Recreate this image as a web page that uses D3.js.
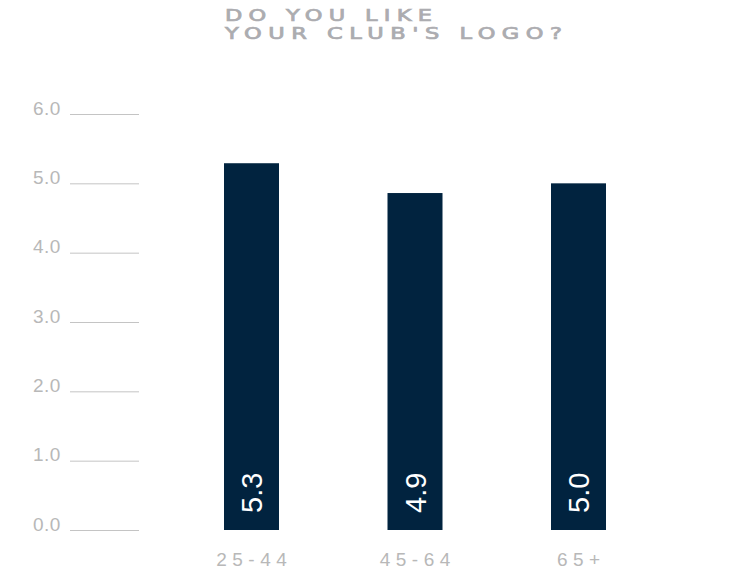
<!DOCTYPE html>
<html>
<head>
<meta charset="utf-8">
<script src="https://cdn.jsdelivr.net/npm/d3@7"></script>
<style>
  html, body { margin: 0; padding: 0; background: #ffffff; }
  svg { display: block; }
</style>
</head>
<body>
<svg id="chart" width="743" height="571"></svg>
<script>
const titleLines = ["DO YOU LIKE", "YOUR CLUB'S LOGO?"];
const categories = ["25-44", "45-64", "65+"];
const values = [5.29, 4.86, 5.0];
const valueLabels = ["5.3", "4.9", "5.0"];
const yTicks = [0, 1, 2, 3, 4, 5, 6];
const yTickLabels = ["0.0", "1.0", "2.0", "3.0", "4.0", "5.0", "6.0"];

const svg = d3.select("#chart");
const barColor = "#01233f";
const textGray = "#b8b8b8";

const x = d3.scaleBand()
  .domain(categories)
  .range([169.75, 660.25])
  .paddingInner(0.6636)
  .paddingOuter(0.3318);

const y = d3.scaleLinear().domain([0, 6]).range([530, 114]);

// Title (wide, letter-spaced)
const sx = 1.5;
const titleWidths = [207, 337];
const tg = svg.append("g").attr("transform", `translate(225,0) scale(${sx},1)`);
tg.selectAll("text")
  .data(titleLines)
  .join("text")
  .attr("x", 0)
  .attr("y", (d, i) => 21 + i * 18.5)
  .attr("textLength", (d, i) => titleWidths[i] / sx)
  .attr("lengthAdjust", "spacing")
  .attr("font-family", "'DejaVu Sans', sans-serif")
  .attr("font-weight", "normal")
  .attr("font-size", 15)
  .attr("fill", "#acacb0")
  .attr("stroke", "#acacb0")
  .attr("stroke-width", 0.7)
  .text(d => d);

// Y axis gridlines + labels
const yAxis = d3.axisLeft(y)
  .tickValues(yTicks)
  .tickFormat((d, i) => yTickLabels[i])
  .tickSize(0);

const gy = svg.append("g").call(yAxis);
gy.select(".domain").remove();
gy.selectAll(".tick line")
  .attr("x1", 70).attr("x2", 139)
  .attr("stroke", "#c4c4c4").attr("stroke-width", 1);
gy.selectAll(".tick text")
  .attr("x", 33).attr("dy", 0).attr("y", 0)
  .attr("text-anchor", "start")
  .attr("font-family", "'Liberation Sans', Arial, sans-serif")
  .attr("font-size", 19)
  .attr("letter-spacing", 0.5)
  .attr("fill", textGray);

// Bars
svg.append("g").selectAll("rect")
  .data(values)
  .join("rect")
  .attr("x", (d, i) => x(categories[i]))
  .attr("y", d => y(d))
  .attr("width", x.bandwidth())
  .attr("height", d => y(0) - y(d))
  .attr("fill", barColor);

// Value labels (rotated)
svg.append("g").selectAll("text")
  .data(values)
  .join("text")
  .attr("transform", (d, i) => `translate(${x(categories[i]) + x.bandwidth() / 2 + 10.5},${y(0) - 17}) rotate(-90)`)
  .attr("text-anchor", "start")
  .attr("font-family", "'Liberation Sans', Arial, sans-serif")
  .attr("font-size", 29)
  .attr("fill", "#ffffff")
  .text((d, i) => valueLabels[i]);

// X axis labels
const xAxis = d3.axisBottom(x).tickSize(0);
const gx = svg.append("g").attr("transform", "translate(0,530)").call(xAxis);
gx.select(".domain").remove();
gx.selectAll(".tick text")
  .attr("y", 36).attr("dy", 0)
  .attr("font-family", "'Liberation Sans', Arial, sans-serif")
  .attr("font-size", 19)
  .attr("letter-spacing", 5.5)
  .attr("fill", textGray)
  .attr("dx", 2.75);
</script>
</body>
</html>
